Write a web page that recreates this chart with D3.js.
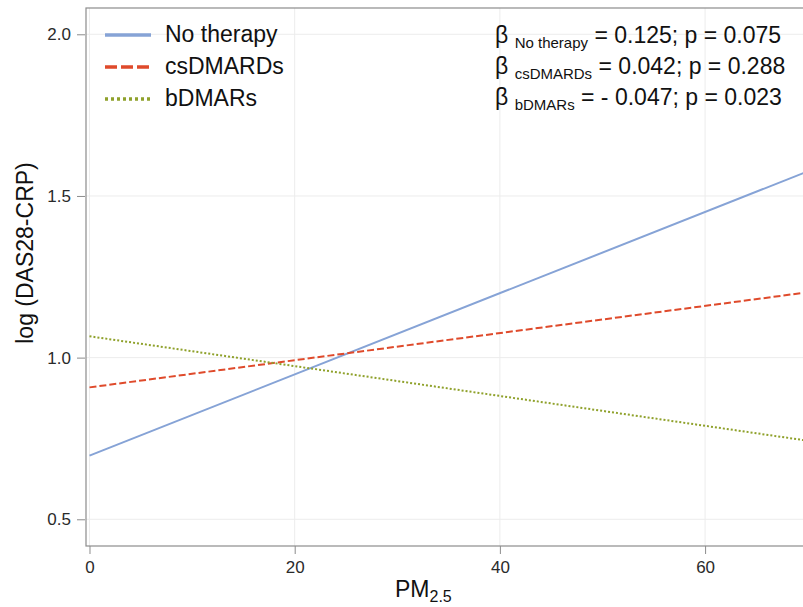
<!DOCTYPE html>
<html>
<head>
<meta charset="utf-8">
<script src="https://cdn.jsdelivr.net/npm/d3@7"></script>
<style>
  body { margin: 0; background: #fff; }
  text { font-family: "Liberation Sans", Arial, sans-serif; }
</style>
</head>
<body>
<script>
var width = 803,
    height = 607;

// PM2.5 at the two ends of each fitted line
var pm = [0, 70];

// fitted log(DAS28-CRP) at those ends
var noTherapy = [0.697, 1.576];
var csDMARDs = [0.908, 1.202];
var bDMARs = [1.066, 0.743];

var seriesNames = ['No therapy', 'csDMARDs', 'bDMARs'];
var betas = ['0.125', '0.042', '- 0.047'];
var pValues = ['0.075', '0.288', '0.023'];

var xTicks = [0, 20, 40, 60];
var yTicks = [0.5, 1.0, 1.5, 2.0];

var series = [
    { name: seriesNames[0], values: noTherapy, color: '#86a3d6', dash: null, legendDash: null },
    { name: seriesNames[1], values: csDMARDs, color: '#df4a2b', dash: '7,3', legendDash: '12,4' },
    { name: seriesNames[2], values: bDMARs, color: '#8fa12b', dash: '2,2', legendDash: '3,3' }
];

var pLeft = 86, pRight = 820, pTop = 8, pBottom = 546;

var x = d3.scaleLinear().domain([-0.34, 71.2]).range([pLeft, pRight]);
var y = d3.scaleLinear().domain([0.4174, 2.0813]).range([pBottom, pTop]);

var svg = d3.select('body')
    .append('svg')
    .attr('width', width)
    .attr('height', height);

svg.append('clipPath')
    .attr('id', 'plotclip')
    .append('rect')
    .attr('x', pLeft)
    .attr('y', pTop)
    .attr('width', pRight - pLeft)
    .attr('height', pBottom - pTop);

// grid
svg.append('g')
    .selectAll('line')
    .data(yTicks)
    .enter()
    .append('line')
    .attr('x1', pLeft)
    .attr('x2', pRight)
    .attr('y1', function (d) { return y(d); })
    .attr('y2', function (d) { return y(d); })
    .attr('stroke', '#ececec')
    .attr('stroke-width', 1);

svg.append('g')
    .selectAll('line')
    .data(xTicks)
    .enter()
    .append('line')
    .attr('x1', function (d) { return x(d); })
    .attr('x2', function (d) { return x(d); })
    .attr('y1', pTop)
    .attr('y2', pBottom)
    .attr('stroke', '#ececec')
    .attr('stroke-width', 1);

// plot border
svg.append('rect')
    .attr('x', pLeft)
    .attr('y', pTop)
    .attr('width', pRight - pLeft)
    .attr('height', pBottom - pTop)
    .attr('fill', 'none')
    .attr('stroke', '#8c8c8c')
    .attr('stroke-width', 1.2);

// axes
var yAxis = svg.append('g')
    .attr('transform', 'translate(' + (pLeft - 1) + ',0)')
    .call(d3.axisLeft(y).tickValues(yTicks).tickFormat(d3.format('.1f')).tickSize(8).tickPadding(6));

var xAxis = svg.append('g')
    .attr('transform', 'translate(0,' + pBottom + ')')
    .call(d3.axisBottom(x).tickValues(xTicks).tickSize(8).tickPadding(7));

[xAxis, yAxis].forEach(function (a) {
    a.select('.domain').remove();
    a.selectAll('line').attr('stroke', '#8c8c8c');
    a.selectAll('text')
        .attr('fill', '#2a2a2a')
        .style('font-size', '17px')
        .style('font-family', '"Liberation Sans", Arial, sans-serif');
});

// lines
var line = d3.line()
    .x(function (d, i) { return x(pm[i]); })
    .y(function (d) { return y(d); });

svg.append('g')
    .attr('clip-path', 'url(#plotclip)')
    .selectAll('path')
    .data(series)
    .enter()
    .append('path')
    .attr('d', function (d) { return line(d.values); })
    .attr('fill', 'none')
    .attr('stroke', function (d) { return d.color; })
    .attr('stroke-width', 2)
    .attr('stroke-dasharray', function (d) { return d.dash; });

// legend
var legend = svg.append('g')
    .selectAll('g')
    .data(series)
    .enter()
    .append('g')
    .attr('transform', function (d, i) { return 'translate(105,' + (35 + i * 32) + ')'; });

legend.append('line')
    .attr('x1', 0)
    .attr('x2', 46)
    .attr('stroke', function (d) { return d.color; })
    .attr('stroke-width', 3.5)
    .attr('stroke-dasharray', function (d) { return d.legendDash; });

legend.append('text')
    .attr('x', 60)
    .attr('y', 7)
    .style('font-size', '23px')
    .attr('fill', '#111')
    .text(function (d) { return d.name; });

// regression coefficients
var stats = svg.append('g')
    .selectAll('text')
    .data(series)
    .enter()
    .append('text')
    .attr('x', 495)
    .attr('y', function (d, i) { return 43 + i * 31; })
    .style('font-size', '23px')
    .attr('fill', '#111');

stats.append('tspan').text('β ');
stats.append('tspan')
    .attr('dy', 5)
    .style('font-size', '15px')
    .text(function (d) { return d.name; });
stats.append('tspan')
    .attr('dy', -5)
    .text(function (d, i) { return ' = ' + betas[i] + '; p = ' + pValues[i]; });

// axis titles
var xt = svg.append('text')
    .attr('x', 395)
    .attr('y', 597)
    .style('font-size', '23px')
    .attr('fill', '#111');
xt.append('tspan').text('PM');
xt.append('tspan').attr('dy', 5).style('font-size', '16px').text('2.5');

svg.append('text')
    .attr('transform', 'translate(33,253) rotate(-90)')
    .attr('text-anchor', 'middle')
    .style('font-size', '23px')
    .attr('fill', '#111')
    .text('log (DAS28-CRP)');
</script>
</body>
</html>
